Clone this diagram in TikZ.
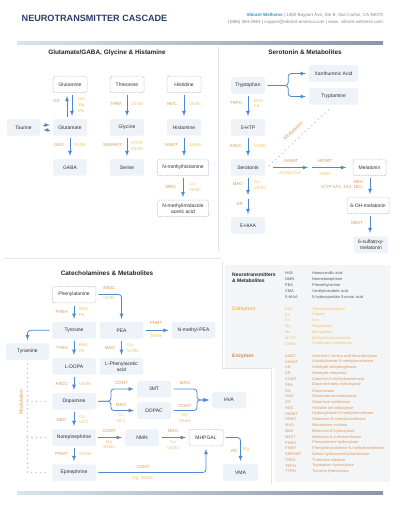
\documentclass[tikz,border=0pt]{standalone}
\usepackage{fontspec}
\setmainfont{Liberation Sans}
\definecolor{navy}{HTML}{2C3E6B}
\definecolor{brandblue}{HTML}{3B8FC4}
\definecolor{hdrgray}{HTML}{8A8A8A}
\definecolor{boxfill}{HTML}{EEF3F9}
\definecolor{dashcol}{HTML}{A7BBD4}
\definecolor{flowblue}{HTML}{4D88D2}
\definecolor{enzcol}{HTML}{D9995E}
\definecolor{enzhead}{HTML}{D4883F}
\definecolor{cofcol}{HTML}{F2C367}
\definecolor{cofhead}{HTML}{F5B73B}
\definecolor{dotgray}{HTML}{C8CCD1}
\definecolor{linegray}{HTML}{E1E4E8}
\definecolor{legendbg}{HTML}{F4F5F7}
\definecolor{nodetext}{HTML}{333333}
\definecolor{leggray}{HTML}{5A5A5A}
\definecolor{bartl}{HTML}{D5E7EA}
\definecolor{barnv}{HTML}{8E93AC}
\begin{document}
\begin{tikzpicture}[x=1pt,y=-1pt,>=latex,line join=bevel,
  box/.style={rounded corners=1.5pt,fill=boxfill,minimum width=34pt,minimum height=16.5pt,inner sep=1pt,align=center,text=nodetext,font=\fontsize{5}{6}\selectfont},
  wide/.style={minimum width=43.5pt},
  dbox/.style={box,fill=white,draw=dashcol,line width=0.5pt,dash pattern=on 1pt off 0.8pt},
  flow/.style={->,draw=flowblue,line width=0.8pt,shorten <=2.5pt,shorten >=3pt},
  enz/.style={text=enzcol,font=\fontsize{4.4}{5.6}\selectfont,inner sep=0pt,align=center},
  cof/.style={text=cofcol,font=\fontsize{4.4}{5.6}\selectfont,inner sep=0pt,align=left},
  modline/.style={draw=dotgray,line width=1.6pt,line cap=round,dash pattern=on 0pt off 4.5pt},
  panelline/.style={draw=linegray,line width=0.8pt},
  heading/.style={font=\bfseries\fontsize{6.4}{7.5}\selectfont,text=black!85},
  legab/.style={anchor=west,inner sep=0pt,font=\fontsize{3.9}{4.7}\selectfont},
  leghead/.style={anchor=west,inner sep=0pt,align=left,font=\bfseries\fontsize{5}{6.5}\selectfont}]
\useasboundingbox (0,0) rectangle (400,518);
\fill[white] (0,0) rectangle (400,518);
%%
% Header
\node[anchor=west,inner sep=0pt,font=\bfseries\fontsize{9.1}{10}\selectfont,text=navy] (title) at (21.5,18.8) {NEUROTRANSMITTER CASCADE};
\node[anchor=east,inner sep=0pt,font=\fontsize{4.5}{5}\selectfont,text=hdrgray] (addr) at (383,15.3) {\textcolor{brandblue}{\bfseries Vibrant Wellness} | 1360 Bayport Ave, Ste B, San Carlos, CA 94070};
\node[anchor=east,inner sep=0pt,font=\fontsize{4.5}{5}\selectfont,text=hdrgray] (contact) at (383,22.3) {1(866) 364-0963 | support@vibrant-america.com | www. vibrant-wellness.com};
\shade[left color=bartl,right color=barnv] (17,41.5) rectangle (383,44.5);
\shade[left color=bartl,right color=barnv] (17,491.5) rectangle (383,494.5);
% Panels
\draw[panelline] (218,47) -- (218,251);
\draw[panelline] (5,258) -- (221,258);
\fill[legendbg] (225,265) rectangle (390,368);
\fill[legendbg] (275,368) rectangle (390,482);
\draw[panelline] (222,262) -- (222,368) -- (271,368) -- (271,484);
\node[heading] (hglu) at (107,52.5) {Glutamate/GABA, Glycine \& Histamine};
\node[heading] (hsero) at (305,52.5) {Serotonin \& Metabolites};
\node[heading] (hcat) at (107,273) {Catecholamines \& Metabolites};
%%
% Node: Glutamine
\node[dbox] (glutamine) at (70,84.5) {Glutamine};
% Node: Threonine
\node[dbox] (threonine) at (127,84.5) {Threonine};
% Node: Histidine
\node[dbox] (histidine) at (184,84.5) {Histidine};
% Node: Taurine
\node[box,minimum width=33pt] (taurine) at (23.5,127.5) {Taurine};
% Node: Glutamate
\node[box] (glutamate) at (70,127.5) {Glutamate};
% Node: Glycine
\node[box] (glycine) at (127,127.5) {Glycine};
% Node: Histamine
\node[box] (histamine) at (184,127.5) {Histamine};
% Node: GABA
\node[box] (gaba) at (70,167.5) {GABA};
% Node: Serine
\node[box] (serine) at (127,167.5) {Serine};
% Node: Nmethylhistamine
\node[dbox,minimum width=51pt] (nmh) at (183,167.5) {N-methylhistamine};
% Node: Nmethylimidazole
\node[dbox,minimum width=51pt] (nmia) at (183,208.5) {N-methylimidazole\\acetic acid};
%
% Edge: Glutamine <-> Glutamate
\draw[flow] ([xshift=-3pt]glutamate.north) -- ([xshift=-3pt]glutamine.south);
\draw[flow] ([xshift=2pt]glutamine.south) -- ([xshift=2pt]glutamate.north);
\node[enz,anchor=east] (lga) at (60,101) {GA};
\node[cof,anchor=west,font=\fontsize{4.4}{5.9}\selectfont] (lgs) at (78,105) {GS\\Mg\\Mn};
% Edge: Taurine <-> Glutamate
\draw[flow] ([yshift=2.5pt]taurine.east) -- ([yshift=2.5pt]glutamate.west);
\draw[flow] ([yshift=-2.5pt]glutamate.west) -- ([yshift=-2.5pt]taurine.east);
% Edge: Threonine -> Glycine
\draw[flow] (threonine) -- (glycine);
\node[enz,anchor=east] (lthra) at (122,104) {THRA};
\node[cof,anchor=west] (lthrac) at (131,104) {Vit B6};
% Edge: Histidine -> Histamine
\draw[flow] (histidine) -- (histamine);
\node[enz,anchor=east] (lhdc) at (177,104) {HDC};
\node[cof,anchor=west] (lhdcc) at (189,104) {Vit B6};
% Edge: Glutamate -> GABA
\draw[flow] (glutamate) -- (gaba);
\node[enz,anchor=east] (lgad) at (64,145) {GAD};
\node[cof,anchor=west] (lgadc) at (74,145) {Vit B6};
% Edge: Glycine -> Serine
\draw[flow] (glycine) -- (serine);
\node[enz,anchor=east] (lserhmt) at (122,145) {SERHMT};
\node[cof,anchor=west] (lserhmtc) at (131,146.3) {MTHF\\Vit B6};
% Edge: Histamine -> Nmethylhistamine
\draw[flow] (histamine) -- ([xshift=1pt]nmh.north);
\node[enz,anchor=east] (lhnmt) at (178,145) {HNMT};
\node[cof,anchor=west] (lhnmtc) at (189,145) {SAMe};
% Edge: Nmethylhistamine -> Nmethylimidazole
\draw[flow] (nmh) -- (nmia);
\node[enz,anchor=east] (lmao1) at (176,186.7) {MAO};
\node[cof,anchor=west] (lmao1c) at (189,187) {Cu\\Vit B2};
%%
% Node: Tryptophan
\node[box] (tryptophan) at (248,85.5) {Tryptophan};
% Node: Xanthurenic
\node[box,minimum width=49pt] (xanth) at (333.5,73.5) {Xanthurenic Acid};
% Node: Tryptamine
\node[box,minimum width=49pt] (tryptamine) at (333.5,96.5) {Tryptamine};
% Node: 5HTP
\node[box] (htp) at (248,127.5) {5-HTP};
% Node: Serotonin
\node[box] (serotonin) at (248,167.5) {Serotonin};
% Node: 5HIAA
\node[box] (hiaa) at (248,225.5) {5-HIAA};
% Node: Melatonin
\node[dbox,minimum width=33pt] (mel) at (369.5,167.5) {Melatonin};
% Node: 6OHmelatonin
\node[dbox,minimum width=42pt] (ohmel) at (368,205.5) {6-OH-melatonin};
% Node: 6sulfatoxy
\node[box] (sulf) at (371,244.5) {6-sulfatoxy-\\melatonin};
%
% Edge: Tryptophan -> Xanthurenic, Tryptamine
\draw[flow,rounded corners=3pt] (tryptophan.east) -- ++(23,0) |- (xanth.west);
\draw[flow,rounded corners=3pt] (tryptophan.east) -- ++(23,0) |- (tryptamine.west);
% Edge: Tryptophan -> 5HTP
\draw[flow] (tryptophan) -- (htp);
\node[enz,anchor=east] (ltrph) at (242,103.3) {TRPH};
\node[cof,anchor=west] (ltrphc) at (254,103.5) {BH4\\Fe};
% Edge: 5HTP -> Serotonin
\draw[flow] (htp) -- (serotonin);
\node[enz,anchor=east] (laadc1) at (242,146) {AADC};
\node[cof,anchor=west] (laadc1c) at (254,146) {Vit B6};
% Edge: Serotonin -> Tryptamine (modulation)
\draw[modline] ([xshift=4pt,yshift=2pt]serotonin.east) -- ([xshift=-2pt,yshift=-2pt]tryptamine.south);
\node[enz,rotate=43,font=\fontsize{5}{6}\selectfont] (lmodtop) at (293,131) {Modulation};
% Edge: Serotonin -> Melatonin
\coordinate (nacs) at (310,167.5);
\draw[flow,shorten <=8pt,shorten >=2pt] (serotonin.east) -- (nacs);
\draw[flow,shorten <=2pt,shorten >=6.5pt] (nacs) -- (mel.west);
\node[enz] (laanat) at (291,161) {AANAT};
\node[cof] (laanatc) at (290,173.5) {\itshape Acetyl CoA};
\node[enz] (lhiomt) at (325,161) {HIOMT};
\node[cof] (lhiomtc) at (325,173.5) {\itshape SAMe};
% Edge: Melatonin -> 6OHmelatonin
\draw[flow] ([xshift=0.5pt]mel.south) -- ([xshift=2pt]ohmel.north);
\node[enz,anchor=east] (lm6h) at (363,181.5) {M6H};
\node[enz,anchor=east] (lcyp) at (363,187) {(CYP 1A1, 1A2, 1B1)};
% Edge: 6OHmelatonin -> 6sulfatoxy
\draw[flow] ([xshift=2pt]ohmel.south) -- ([xshift=-1pt]sulf.north);
\node[enz,anchor=east] (lm6st) at (363,223.3) {M6ST};
% Edge: Serotonin -> 5HIAA
\coordinate (hiald) at (248,197);
\draw[flow,shorten >=2pt] (serotonin) -- (hiald);
\draw[flow,shorten <=2pt] (hiald) -- (hiaa);
\node[enz,anchor=east] (lmao2) at (243,184) {MAO};
\node[cof,anchor=west] (lmao2c) at (254,184.8) {Cu\\Vit B2};
\node[enz,anchor=east] (lar) at (243,204.3) {AR};
%%
% Node: Phenylalanine
\node[dbox,wide] (phe) at (74,294.5) {Phenylalanine};
% Node: Tyrosine
\node[box,wide] (tyr) at (74,330.3) {Tyrosine};
% Node: PEA
\node[box,wide] (pea) at (121.5,330.3) {PEA};
% Node: NmethylPEA
\node[box,wide] (nmpea) at (193.5,330.3) {N-methyl-PEA};
% Node: Tyramine
\node[box,wide] (tyramine) at (27.5,351.5) {Tyramine};
% Node: LDOPA
\node[box,wide] (ldopa) at (74,366.3) {L-DOPA};
% Node: LPhenylacetic
\node[box,wide] (lpaa) at (121.5,366.3) {L-Phenylacetic\\acid};
% Node: Dopamine
\node[box,wide] (dopa) at (74,401.3) {Dopamine};
% Node: 3MT
\node[box] (mt) at (154,389) {3MT};
% Node: DOPAC
\node[box] (dopac) at (154,410.5) {DOPAC};
% Node: HVA
\node[box] (hva) at (229,400) {HVA};
% Node: Norepinephrine
\node[box,wide] (ne) at (74,437.5) {Norepinephrine};
% Node: NMN
\node[box] (nmn) at (142,437.5) {NMN};
% Node: MHPGAL
\node[dbox] (mhpgal) at (206,437.5) {MHPGAL};
% Node: Epinephrine
\node[box,wide] (epi) at (74,472.5) {Epinephrine};
% Node: VMA
\node[box,minimum width=35pt] (vma) at (240.5,472.5) {VMA};
%
% Edge: Phenylalanine -> PEA
\draw[flow,rounded corners=3pt] (phe.east) -| (pea.north);
\node[enz,anchor=west] (laadc2) at (103,288) {AADC};
\node[cof,anchor=west] (laadc2c) at (103,298) {Vit B6};
% Edge: Phenylalanine -> Tyrosine
\draw[flow] (phe) -- (tyr);
\node[enz,anchor=east] (lpheh) at (68,312.3) {PHEH};
\node[cof,anchor=west] (lphehc) at (79,312) {BH4\\Fe};
% Edge: Tyrosine -> Tyramine
\draw[flow,rounded corners=3pt] (tyr.west) -| (tyramine.north);
% Edge: Tyrosine -> LDOPA
\draw[flow] (tyr) -- (ldopa);
\node[enz,anchor=east] (ltyrh) at (68,348.3) {TYRH};
\node[cof,anchor=west] (ltyrhc) at (79,348) {BH4\\Fe};
% Edge: PEA -> NmethylPEA
\draw[flow] (pea) -- (nmpea);
\node[enz] (lpnmt1) at (156,323) {PNMT};
\node[cof] (lpnmt1c) at (156,335.5) {SAMe};
% Edge: PEA -> LPhenylacetic
\draw[flow] (pea) -- (lpaa);
\node[enz,anchor=east] (lmao3) at (115,348.3) {MAO};
\node[cof,anchor=west] (lmao3c) at (127,348) {Cu\\Vit B2};
% Edge: LDOPA -> Dopamine
\draw[flow] (ldopa) -- (dopa);
\node[enz,anchor=east] (laadc3) at (68,384.3) {AADC};
\node[cof,anchor=west] (laadc3c) at (79,384.3) {Vit B6};
% Edge: Dopamine -> 3MT, DOPAC
\draw[flow,rounded corners=3pt] (dopa.east) -- ++(15,0) |- (mt.west);
\draw[flow,rounded corners=3pt] (dopa.east) -- ++(15,0) |- (dopac.west);
\node[enz] (lcomt1) at (121.5,383.3) {COMT};
\node[enz] (lmao4) at (121,405.3) {MAO};
\node[cof,align=center] (lmao4c) at (121,418) {Cu\\Vit C};
% Edge: 3MT, DOPAC -> HVA
\coordinate (hvajoin) at (197,400);
\draw[flow,rounded corners=3pt] (mt.east) -| (hvajoin) -- (hva.west);
\draw[flow,rounded corners=3pt] (dopac.east) -| (hvajoin) -- (hva.west);
\node[enz] (lmao5) at (185,383.3) {MAO};
\node[enz] (lcomt2) at (185,405.7) {COMT};
\node[cof,align=center] (lcomt2c) at (185,418) {Mg\\SAMe};
% Edge: Dopamine -> Norepinephrine
\draw[flow] (dopa) -- (ne);
\node[enz,anchor=east] (ldbh) at (66,420) {DBH};
\node[cof,anchor=west] (ldbhc) at (79,419.5) {Cu\\Vit C};
% Edge: Norepinephrine -> NMN
\draw[flow] (ne) -- (nmn);
\node[enz] (lcomt3) at (109,431) {COMT};
\node[cof,align=center] (lcomt3c) at (109,444.5) {Mg\\SAMe};
% Edge: NMN -> MHPGAL
\draw[flow] (nmn) -- (mhpgal);
\node[enz] (lmao6) at (173,431) {MAO};
\node[cof,align=center] (lmao6c) at (173,444.8) {Cu\\Vit B2};
% Edge: Norepinephrine -> Epinephrine
\draw[flow] (ne) -- (epi);
\node[enz,anchor=east] (lpnmt2) at (68,454.3) {PNMT};
\node[cof,anchor=west] (lpnmt2c) at (79,454.3) {SAMe};
% Edge: Epinephrine -> MHPGAL
\draw[flow,rounded corners=3pt] (epi.east) -| (mhpgal.south);
\node[enz] (lcomt4) at (143,466.7) {COMT};
\node[cof] (lcomt4c) at (142.5,478.3) {Mg, SAMe};
% Edge: MHPGAL -> VMA
\draw[flow,rounded corners=3pt] (mhpgal.east) -| (vma.north);
\node[enz] (lad) at (234,450.7) {AD};
\node[cof] (ladc) at (246,449) {Mg};
% Edge: Tyramine -> Dopamine, Norepinephrine, Epinephrine (modulation)
\coordinate (modbot) at (tyramine.south |- epi.west);
\draw[modline,shorten <=4pt] (tyramine.south) -- (modbot) -- ([xshift=-4pt]epi.west);
\draw[modline] (tyramine.south |- dopa.west) -- ([xshift=-4pt]dopa.west);
\draw[modline] (tyramine.south |- ne.west) -- ([xshift=-4pt]ne.west);
\node[enz,rotate=90,font=\fontsize{5}{6}\selectfont] (lmodleft) at (21,402) {Modulation};
%%
% Legend: Neurotransmitters & Metabolites
\node[leghead,text=black!85] (legnt) at (232,277.5) {Neurotransmitters\\\& Metabolites};
\node[legab,text=leggray] (nt1) at (285,273) {HVA}; \node[legab,text=leggray] (nt1n) at (312,273) {Homovanillic acid};
\node[legab,text=leggray] (nt2) at (285,279) {NMN}; \node[legab,text=leggray] (nt2n) at (312,279) {Normetanephrine};
\node[legab,text=leggray] (nt3) at (285,285) {PEA}; \node[legab,text=leggray] (nt3n) at (312,285) {Phenethylamine};
\node[legab,text=leggray] (nt4) at (285,291) {VMA}; \node[legab,text=leggray] (nt4n) at (312,291) {Vanillylmandelic acid};
\node[legab,text=leggray] (nt5) at (285,297) {5-HIAA}; \node[legab,text=leggray] (nt5n) at (312,297) {5-hydroxyindole-3-acetic acid};
% Legend: Cofactors
\node[leghead,text=cofhead] (legcof) at (232,309) {Cofactors};
\node[legab,text=cofcol] (cf1) at (285,309) {BH4}; \node[legab,text=cofcol] (cf1n) at (312,309) {Tetrahydrobiopterin};
\node[legab,text=cofcol] (cf2) at (285,314.8) {Cu}; \node[legab,text=cofcol] (cf2n) at (312,314.8) {Copper};
\node[legab,text=cofcol] (cf3) at (285,320.6) {Fe}; \node[legab,text=cofcol] (cf3n) at (312,320.6) {Iron};
\node[legab,text=cofcol] (cf4) at (285,326.4) {Mg}; \node[legab,text=cofcol] (cf4n) at (312,326.4) {Magnesium};
\node[legab,text=cofcol] (cf5) at (285,332.2) {Mn}; \node[legab,text=cofcol] (cf5n) at (312,332.2) {Manganese};
\node[legab,text=cofcol] (cf6) at (285,338) {MTHF}; \node[legab,text=cofcol] (cf6n) at (312,338) {Methyltetrahydrofolate};
\node[legab,text=cofcol] (cf7) at (285,343.8) {SAMe}; \node[legab,text=cofcol] (cf7n) at (312,343.8) {S-adenosyl methionine};
% Legend: Enzymes
\node[leghead,text=enzhead] (legenz) at (232,356) {Enzymes};
\node[legab,text=enzcol] (ez1) at (285,356) {AADC}; \node[legab,text=enzcol] (ez1n) at (312,356) {Aromatic L-amino acid decarboxylase};
\node[legab,text=enzcol] (ez2) at (285,361.8) {AANAT}; \node[legab,text=enzcol] (ez2n) at (312,361.8) {Arylalkylamine N-methyltransferase};
\node[legab,text=enzcol] (ez3) at (285,367.6) {AD}; \node[legab,text=enzcol] (ez3n) at (312,367.6) {Aldehyde dehydrogenase};
\node[legab,text=enzcol] (ez4) at (285,373.3) {AR}; \node[legab,text=enzcol] (ez4n) at (312,373.3) {Aldehyde reductase};
\node[legab,text=enzcol] (ez5) at (285,379.1) {COMT}; \node[legab,text=enzcol] (ez5n) at (312,379.1) {Catechol-O-methyltransferase};
\node[legab,text=enzcol] (ez6) at (285,384.9) {DBH}; \node[legab,text=enzcol] (ez6n) at (312,384.9) {Dopamine beta-hydroxylase};
\node[legab,text=enzcol] (ez7) at (285,390.7) {GA}; \node[legab,text=enzcol] (ez7n) at (312,390.7) {Glutaminase};
\node[legab,text=enzcol] (ez8) at (285,396.5) {GAD}; \node[legab,text=enzcol] (ez8n) at (312,396.5) {Glutamate decarboxylase};
\node[legab,text=enzcol] (ez9) at (285,402.2) {GS}; \node[legab,text=enzcol] (ez9n) at (312,402.2) {Glutamine synthetase};
\node[legab,text=enzcol] (ez10) at (285,408) {HDC}; \node[legab,text=enzcol] (ez10n) at (312,408) {Histidine decarboxylase};
\node[legab,text=enzcol] (ez11) at (285,413.8) {HIOMT}; \node[legab,text=enzcol] (ez11n) at (312,413.8) {Hydroxyindole-O-methyltransferase};
\node[legab,text=enzcol] (ez12) at (285,419.6) {HNMT}; \node[legab,text=enzcol] (ez12n) at (312,419.6) {Histamine N-methyltransferase};
\node[legab,text=enzcol] (ez13) at (285,425.4) {MAO}; \node[legab,text=enzcol] (ez13n) at (312,425.4) {Monoamine oxidase};
\node[legab,text=enzcol] (ez14) at (285,431.1) {M6H}; \node[legab,text=enzcol] (ez14n) at (312,431.1) {Melatonin 6-hydroxylase};
\node[legab,text=enzcol] (ez15) at (285,436.9) {M6ST}; \node[legab,text=enzcol] (ez15n) at (312,436.9) {Melatonin 6-sulfotransferase};
\node[legab,text=enzcol] (ez16) at (285,442.7) {PHEH}; \node[legab,text=enzcol] (ez16n) at (312,442.7) {Phenylalanine hydroxylase};
\node[legab,text=enzcol] (ez17) at (285,448.5) {PNMT}; \node[legab,text=enzcol] (ez17n) at (312,448.5) {Phenylethanolamine N-methyltransferase};
\node[legab,text=enzcol] (ez18) at (285,454.3) {SERHMT}; \node[legab,text=enzcol] (ez18n) at (312,454.3) {Serine hydroxymethyltransferase};
\node[legab,text=enzcol] (ez19) at (285,460) {THRA}; \node[legab,text=enzcol] (ez19n) at (312,460) {Threonine aldolase};
\node[legab,text=enzcol] (ez20) at (285,465.8) {TRPH}; \node[legab,text=enzcol] (ez20n) at (312,465.8) {Tryptophan hydroxylase};
\node[legab,text=enzcol] (ez21) at (285,471.6) {TYRH}; \node[legab,text=enzcol] (ez21n) at (312,471.6) {Tyrosine hydroxylase};
%
\end{tikzpicture}
\end{document}
